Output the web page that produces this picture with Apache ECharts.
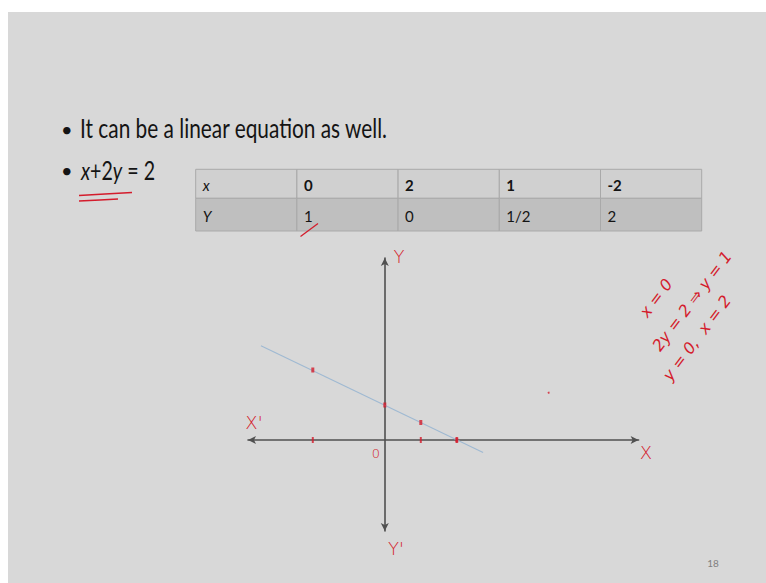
<!DOCTYPE html>
<html>
<head>
<meta charset="utf-8">
<script src="https://cdn.jsdelivr.net/npm/echarts/dist/echarts.min.js"></script>
<style>
  html, body { margin: 0; padding: 0; background: #ffffff; }
  #chart { width: 766px; height: 583px; }
</style>
</head>
<body>
<div id="chart"></div>
<script>
// Table of solutions for x + 2y = 2
const tableRowNames = ['x', 'Y'];
const xValues = [0, 2, 1, -2];
const xValueLabels = ['0', '2', '1', '-2'];
const yValues = [1, 0, 0.5, 2];
const yValueLabels = ['1', '0', '1/2', '2'];

// Drawn straight line (end points of the ruler stroke)
const lineX = [-3.44, 2.73];
const lineY = [2.69, -0.36];

// Pen ticks on the x axis
const axisTicksX = [-2, 1, 2];

// Stray pen dot on the board
const penDots = [[4.55, 1.35]];

// Slide texts
const bulletLine1 = 'It can be a linear equation as well.';
const bulletLine2 = '{i|x}+2{i|y} = 2';
const pageNumber = '18';
const notes = ['x = 0', '2y = 2 \u21D2 y = 1', 'y = 0,  x = 2'];

const RED = '#d41c2c';
const SLIDE = '#d8d8d8';
const INK = '#141414';

function widthOf(text, font) {
  const ctx = document.createElement('canvas').getContext('2d');
  ctx.font = font;
  return ctx.measureText(text).width;
}

const titleFont = '26px Lato';
const titleScale = 308 / widthOf(bulletLine1, titleFont);
const eqScale = 74 / (widthOf('x', 'italic 26px Lato') + widthOf('y', 'italic 26px Lato') + widthOf('+2 = 2', titleFont));

// Table geometry
const tLeft = 195.7, tTop = 169.3, colW = 101.2, rowH = [29, 32.7];
const graphics = [];

// slide background
graphics.push({ type: 'rect', shape: { x: 8, y: 12, width: 760, height: 575 }, style: { fill: SLIDE }, z: -10 });

// bullets
graphics.push({ type: 'text', x: 61, y: 129, style: { text: '\u2022', font: '20px Lato', fill: INK, verticalAlign: 'middle' } });
graphics.push({ type: 'text', x: 80, y: 128.5, scaleX: titleScale, style: { text: bulletLine1, font: titleFont, fill: INK, verticalAlign: 'middle' } });
graphics.push({ type: 'text', x: 61, y: 170, style: { text: '\u2022', font: '20px Lato', fill: INK, verticalAlign: 'middle' } });
graphics.push({ type: 'text', x: 81, y: 169.5, scaleX: eqScale, style: { text: bulletLine2, font: titleFont, fill: INK, verticalAlign: 'middle',
  rich: { i: { fontStyle: 'italic', fontSize: 26, fontFamily: 'Lato', fill: INK } } } });
// red underline strokes
graphics.push({ type: 'polyline', shape: { points: [[79, 195.5], [105, 194], [132, 192.5]] }, style: { stroke: RED, lineWidth: 1.4, fill: null } });
graphics.push({ type: 'polyline', shape: { points: [[79, 201], [100, 200], [118, 199]] }, style: { stroke: RED, lineWidth: 1.4, fill: null } });

// table
const rowFill = ['#d0d0d0', '#bfbfbf'];
const rowsText = [xValueLabels, yValueLabels];
let yCursor = tTop;
for (let r = 0; r < 2; r++) {
  for (let c = 0; c < 5; c++) {
    const x0 = tLeft + c * colW;
    graphics.push({ type: 'rect', shape: { x: x0, y: yCursor, width: colW, height: rowH[r] },
      style: { fill: rowFill[r], stroke: '#a9a9a9', lineWidth: 1 } });
    const txt = c === 0 ? tableRowNames[r] : rowsText[r][c - 1];
    graphics.push({ type: 'text', x: x0 + 7, y: yCursor + rowH[r] / 2 + 1, style: {
      text: txt,
      font: (c === 0 ? 'italic ' : '') + (r === 0 && c > 0 ? 'bold ' : '') + '15px Lato',
      fill: INK, verticalAlign: 'middle' } });
  }
  yCursor += rowH[r];
}
// pen check mark under the first Y value
graphics.push({ type: 'line', shape: { x1: 300.5, y1: 236.5, x2: 318, y2: 223.5 }, style: { stroke: RED, lineWidth: 1.3 } });

// handwritten axis names
const hand = (t, x, y, size) => ({ type: 'text', x, y, style: { text: t, font: '300 ' + size + 'px "DejaVu Sans"', fill: RED, align: 'center', verticalAlign: 'middle' } });
graphics.push(hand('Y', 399, 256, 18));
graphics.push(hand("X'", 254, 422, 18));
graphics.push(hand('0', 376, 453, 13));
graphics.push(hand('X', 646, 452, 18));
graphics.push(hand("Y'", 396, 548, 18));

// handwritten working, slanted up to the right
const slant = 53 * Math.PI / 180;
const noteCenters = [[656, 298], [692, 301], [697, 338]];
notes.forEach((t, i) => {
  graphics.push({ type: 'text', x: noteCenters[i][0], y: noteCenters[i][1], rotation: slant,
    style: { text: t, font: 'italic 16px "DejaVu Sans"', fill: RED, align: 'center', verticalAlign: 'middle' } });
});

// page number
graphics.push({ type: 'text', x: 713, y: 563, style: { text: pageNumber, font: '10px Lato', fill: '#808080', align: 'center', verticalAlign: 'middle' } });

const chart = echarts.init(document.getElementById('chart'), null, { renderer: 'svg' });
chart.setOption({
  animation: false,
  backgroundColor: '#ffffff',
  graphic: graphics,
  grid: { left: 248, top: 258, width: 390.6, height: 273, containLabel: false },
  xAxis: {
    type: 'value', min: -3.8, max: 7.05,
    axisLine: { onZero: true, symbol: ['arrow', 'arrow'], symbolSize: [6, 8], lineStyle: { color: '#505050', width: 1.6 } },
    axisTick: { show: false }, axisLabel: { show: false }, splitLine: { show: false }
  },
  yAxis: {
    type: 'value', min: -2.6, max: 5.2,
    axisLine: { onZero: true, symbol: ['arrow', 'arrow'], symbolSize: [6, 8], lineStyle: { color: '#505050', width: 1.6 } },
    axisTick: { show: false }, axisLabel: { show: false }, splitLine: { show: false }
  },
  series: [
    {
      name: 'x + 2y = 2', type: 'line', data: lineX.map((x, i) => [x, lineY[i]]),
      showSymbol: false, lineStyle: { color: '#9fb9d2', width: 1.1 }, z: 3
    },
    {
      name: 'points', type: 'scatter', data: xValues.map((x, i) => [x, yValues[i]]),
      symbol: 'rect', symbolSize: [3, 5], itemStyle: { color: RED }, z: 4
    },
    {
      name: 'axis ticks', type: 'scatter', data: axisTicksX.map(x => [x, 0]),
      symbol: 'rect', symbolSize: [2, 6], itemStyle: { color: RED }, z: 4
    },
    {
      name: 'dots', type: 'scatter', data: penDots,
      symbol: 'circle', symbolSize: 2, itemStyle: { color: RED }, z: 4
    }
  ]
});
</script>
</body>
</html>
